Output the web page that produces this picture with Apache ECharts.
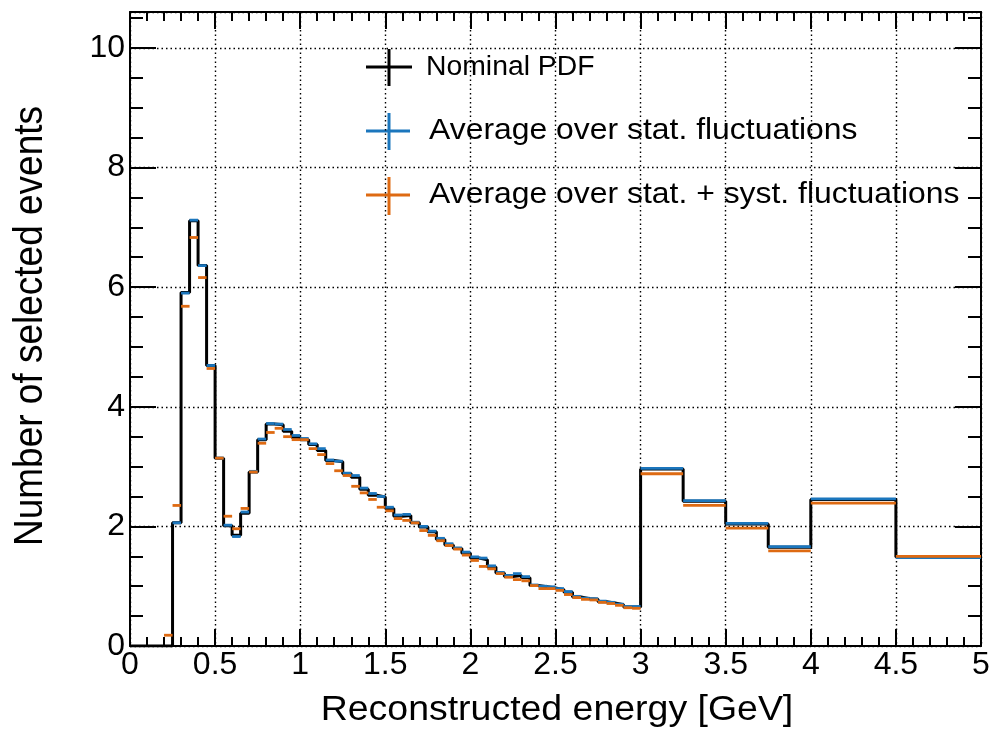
<!DOCTYPE html>
<html><head><meta charset="utf-8">
<script src="https://cdn.jsdelivr.net/npm/echarts@6/dist/echarts.min.js"></script>
<style>html,body{margin:0;padding:0;background:#fff}#c{width:992px;height:730px}</style>
</head><body><div id="c"></div><script>
// Bin edges (GeV)
const binEdges = [0,0.05,0.1,0.15,0.2,0.25,0.3,0.35,0.4,0.45,0.5,0.55,0.6,0.65,0.7,0.75,0.8,0.85,0.9,0.95,
  1.0,1.05,1.1,1.15,1.2,1.25,1.3,1.35,1.4,1.45,1.5,1.55,1.6,1.65,1.7,1.75,1.8,1.85,1.9,1.95,
  2.0,2.05,2.1,2.15,2.2,2.25,2.3,2.35,2.4,2.45,2.5,2.55,2.6,2.65,2.7,2.75,2.8,2.85,2.9,2.95,
  3.0,3.25,3.5,3.75,4.0,4.5,5.0];
// Nominal PDF (black step histogram)
const nominal = [0,0,0,0,0,2.06,5.91,7.11,6.36,4.69,3.14,2.01,1.85,2.22,2.91,3.45,3.71,3.70,3.59,3.49,
  3.45,3.37,3.27,3.10,3.08,2.88,2.82,2.62,2.52,2.49,2.30,2.17,2.18,2.06,1.99,1.91,1.78,1.69,1.63,1.55,
  1.47,1.44,1.32,1.22,1.16,1.18,1.14,1.01,0.99,0.97,0.94,0.90,0.82,0.79,0.78,0.74,0.72,0.69,0.65,0.65,
  2.96,2.42,2.04,1.65,2.45,1.49];
// Average over stat. fluctuations (blue)
const statAvg = [null,null,null,null,null,2.06,5.90,7.12,6.36,4.69,3.14,2.02,1.83,2.24,2.92,3.46,3.72,3.71,3.62,3.52,
  3.47,3.38,3.30,3.11,3.09,2.89,2.85,2.64,2.55,2.50,2.32,2.19,2.20,2.07,2.00,1.92,1.80,1.71,1.64,1.57,
  1.49,1.47,1.34,1.23,1.18,1.21,1.16,1.02,1.00,0.99,0.96,0.91,0.83,0.80,0.79,0.75,0.73,0.70,0.66,0.66,
  2.97,2.43,2.05,1.66,2.46,1.48];
// Average over stat. + syst. fluctuations (orange)
const systAvg = [null,null,null,null,0.18,2.35,5.68,6.83,6.16,4.64,3.14,2.17,1.96,2.30,2.91,3.39,3.57,3.64,3.50,3.45,
  3.45,3.30,3.20,3.05,2.93,2.85,2.67,2.56,2.45,2.32,2.26,2.13,2.10,2.06,1.93,1.85,1.76,1.68,1.62,1.52,
  1.43,1.33,1.29,1.21,1.15,1.11,1.09,1.01,0.96,0.96,0.93,0.86,0.81,0.78,0.77,0.73,0.71,0.68,0.64,0.63,
  2.88,2.35,1.97,1.59,2.39,1.50];

const seriesNames = ['Nominal PDF','Average over stat. fluctuations','Average over stat. + syst. fluctuations'];
const xTitle = 'Reconstructed energy [GeV]';
const yTitle = 'Number of selected events';

const BLUE = '#1b76bd', ORANGE = '#de6a12';
const FONT = 'Liberation Sans, Arial, Helvetica, sans-serif';

const stepData = binEdges.map((e, i) => [e, i < nominal.length ? nominal[i] : nominal[nominal.length - 1]]);
function barData(arr) {
  const out = [];
  arr.forEach((v, i) => { if (v !== null) out.push([binEdges[i], binEdges[i + 1], v]); });
  return out;
}
function barRender(color, w) {
  return function (params, api) {
    const p0 = api.coord([api.value(0), api.value(2)]);
    const p1 = api.coord([api.value(1), api.value(2)]);
    return { type: 'line', shape: { x1: p0[0], y1: p0[1], x2: p1[0], y2: p1[1] },
      style: { stroke: color, lineWidth: w } };
  };
}
const dotted = { show: true, lineStyle: { color: '#000', width: 1.4, type: [1.5, 3] } };
const yMaj = (pos, labels) => ({
  type: 'value', min: 0, max: 10.6, interval: 2, position: pos,
  axisLine: { show: true, onZero: false, lineStyle: { color: '#000', width: 2 } },
  axisTick: { show: true, inside: true, length: 26, lineStyle: { color: '#000', width: 2 } },
  axisLabel: { show: labels, fontSize: 32, fontFamily: FONT, color: '#000', margin: 5,
    formatter: v => (Math.abs(v / 2 - Math.round(v / 2)) < 1e-6 ? String(v) : '') },
  splitLine: labels ? dotted : { show: false }
});
const yMin = (pos) => ({
  type: 'value', min: 0, max: 10.6, interval: 0.5, position: pos,
  axisLine: { show: false, onZero: false }, axisLabel: { show: false }, splitLine: { show: false },
  axisTick: { show: true, inside: true, length: 13, lineStyle: { color: '#000', width: 2 } }
});
const xAx = (pos, labels) => ({
  type: 'value', min: 0, max: 5, interval: 0.5, position: pos,
  axisLine: { show: true, onZero: false, lineStyle: { color: '#000', width: 2 } },
  axisTick: { show: true, inside: true, length: 17, lineStyle: { color: '#000', width: 2 } },
  minorTick: { show: true, splitNumber: 5, length: 9, lineStyle: { color: '#000', width: 2 } },
  axisLabel: { show: labels, fontSize: 32, fontFamily: FONT, color: '#000', margin: 3 },
  splitLine: labels ? dotted : { show: false }
});

const chart = echarts.init(document.getElementById('c'), null, { renderer: 'canvas' });
chart.setOption({
  animation: false,
  backgroundColor: '#fff',
  grid: { left: 130, right: 11, top: 12, bottom: 84, containLabel: false, outerBoundsMode: 'none' },
  xAxis: [xAx('bottom', true), xAx('top', false)],
  yAxis: [yMaj('left', true), yMin('left'), yMaj('right', false), yMin('right')],
  series: [
    { name: seriesNames[0], type: 'line', step: 'end', data: stepData, showSymbol: false, symbol: 'none',
      lineStyle: { color: '#000', width: 3 }, z: 2 },
    { name: seriesNames[1], type: 'custom', data: barData(statAvg), encode: { x: [0, 1], y: 2 },
      renderItem: barRender(BLUE, 2.8), z: 3, clip: true },
    { name: seriesNames[2], type: 'custom', data: barData(systAvg), encode: { x: [0, 1], y: 2 },
      renderItem: barRender(ORANGE, 2.8), z: 4, clip: true }
  ],
  graphic: [
    { type: 'text', x: 557, y: 710, scaleX: 1.07, style: { text: xTitle, x: 0, y: 0, fontSize: 35, fontFamily: FONT,
      fill: '#000', textAlign: 'center', textVerticalAlign: 'middle' } },
    { type: 'text', x: 31, y: 326, rotation: Math.PI / 2, scaleY: 1.12, style: { text: yTitle, x: 0, y: 0, fontSize: 37,
      fontFamily: FONT, fill: '#000', textAlign: 'center', textVerticalAlign: 'middle' } },
    // legend crosses
    { type: 'line', shape: { x1: 366, y1: 67, x2: 412, y2: 67 }, style: { stroke: '#000', lineWidth: 3 } },
    { type: 'line', shape: { x1: 389, y1: 49, x2: 389, y2: 86 }, style: { stroke: '#000', lineWidth: 3 } },
    { type: 'line', shape: { x1: 366, y1: 131, x2: 410, y2: 131 }, style: { stroke: BLUE, lineWidth: 3 } },
    { type: 'line', shape: { x1: 389, y1: 113, x2: 389, y2: 150 }, style: { stroke: BLUE, lineWidth: 3 } },
    { type: 'line', shape: { x1: 366, y1: 195, x2: 410, y2: 195 }, style: { stroke: ORANGE, lineWidth: 3 } },
    { type: 'line', shape: { x1: 389, y1: 177, x2: 389, y2: 215 }, style: { stroke: ORANGE, lineWidth: 3 } },
    { type: 'text', x: 426, y: 68, scaleX: 1.05, style: { text: seriesNames[0], x: 0, y: 0, fontSize: 27, fontFamily: FONT,
      fill: '#000', textAlign: 'left', textVerticalAlign: 'middle' } },
    { type: 'text', x: 429, y: 131, scaleX: 1.1, style: { text: seriesNames[1], x: 0, y: 0, fontSize: 29, fontFamily: FONT,
      fill: '#000', textAlign: 'left', textVerticalAlign: 'middle' } },
    { type: 'text', x: 429, y: 195, scaleX: 1.1, style: { text: seriesNames[2], x: 0, y: 0, fontSize: 29, fontFamily: FONT,
      fill: '#000', textAlign: 'left', textVerticalAlign: 'middle' } }
  ]
});
</script></body></html>
